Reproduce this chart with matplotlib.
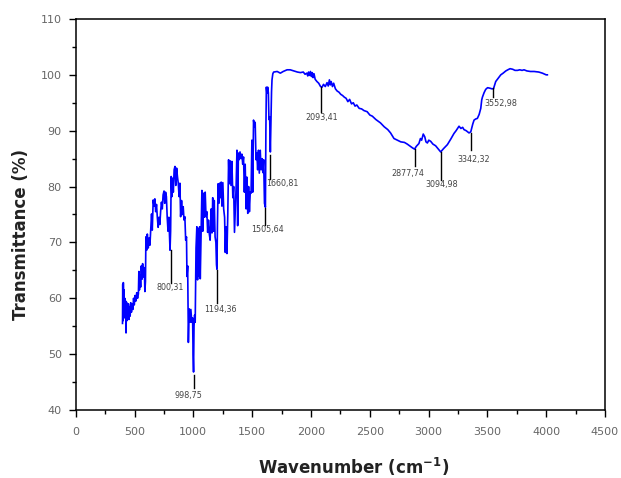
import matplotlib
matplotlib.use("Agg")
import matplotlib.pyplot as plt
from matplotlib.ticker import MultipleLocator

# ---- spectrum data (wavenumber, transmittance) ----
wavenumber = [
    398, 400, 403, 405, 408, 411, 414, 417, 421, 425, 428, 432, 436, 440, 444, 448,
    453, 458, 463, 468, 474, 480, 486, 492, 498, 505, 512, 519, 526, 533, 537, 542,
    547, 552, 558, 563, 569, 574, 580, 585, 588, 593, 597, 603, 609, 617, 624, 631,
    638, 645, 651, 659, 666, 673, 680, 687, 694, 701, 708, 715, 722, 729, 736, 743,
    751, 757, 764, 771, 778, 785, 792, 802, 807, 812, 818, 824, 830, 837, 844, 851,
    858, 865, 872, 879, 886, 892, 900, 907, 914, 921, 928, 935, 942, 946, 952, 958,
    965, 972, 979, 987, 994, 998, 1002, 1006, 1011, 1016, 1023, 1030, 1036, 1042,
    1048, 1054, 1059, 1066, 1073, 1080, 1087, 1094, 1101, 1108, 1115, 1122, 1129,
    1136, 1143, 1152, 1159, 1165, 1172, 1178, 1185, 1192, 1197, 1201, 1205, 1211,
    1217, 1223, 1229, 1237, 1243, 1251, 1258, 1266, 1272, 1278, 1286, 1293, 1300,
    1306, 1313, 1320, 1328, 1336, 1343, 1350, 1357, 1364, 1371, 1377, 1383, 1389,
    1397, 1405, 1413, 1420, 1427, 1434, 1441, 1449, 1455, 1463, 1470, 1477, 1484,
    1491, 1498, 1505, 1512, 1519, 1526, 1533, 1540, 1547, 1554, 1561, 1569, 1576,
    1584, 1591, 1598, 1605, 1613, 1617, 1621, 1626, 1632, 1638, 1643, 1649, 1655,
    1660, 1665, 1669, 1676, 1683, 1713, 1740, 1764, 1797, 1824, 1854, 1885, 1911,
    1935, 1950, 1965, 1973, 1980, 1987, 1996, 2004, 2011, 2018, 2026, 2036, 2051,
    2066, 2082, 2095, 2107, 2122, 2137, 2147, 2157, 2165, 2172, 2183, 2193, 2208,
    2223, 2238, 2254, 2269, 2284, 2299, 2314, 2329, 2345, 2360, 2375, 2390, 2410,
    2431, 2451, 2478, 2501, 2522, 2552, 2591, 2623, 2653, 2677, 2706, 2734, 2764,
    2795, 2819, 2845, 2865, 2881, 2896, 2918, 2931, 2941, 2955, 2968, 2978, 2990,
    3002, 3018, 3037, 3060, 3083, 3103, 3128, 3160, 3189, 3216, 3234, 3259, 3275,
    3290, 3301, 3320, 3344, 3359, 3376, 3387, 3401, 3415, 3430, 3444, 3452, 3458,
    3472, 3486, 3502, 3523, 3538, 3552, 3571, 3593, 3614, 3634, 3657, 3674, 3693,
    3715, 3735, 3756, 3775, 3795, 3812, 3836, 3866, 3898, 3937, 3968, 3990, 4000,
    4010,
]
transmittance = [
    55.5, 62.5, 56.0, 62.8, 57.5, 61.5, 56.5, 60.0, 57.0, 59.5, 53.8, 59.3, 56.0, 58.8, 56.5, 59.0,
    56.2, 58.5, 56.8, 59.2, 57.5, 59.0, 58.0, 60.0, 58.8, 60.5, 59.5, 61.0, 60.0, 60.8, 64.8, 61.5,
    64.2, 62.0, 65.8, 63.4, 66.2, 63.8, 65.5, 64.0, 61.2, 63.0, 71.0, 68.6, 71.5, 69.0, 70.8, 69.5,
    72.5, 75.1, 72.2, 77.6, 76.5, 77.8, 75.5, 76.8, 74.5, 72.7, 74.5, 73.2, 75.5, 77.2, 76.0, 78.5,
    79.2, 77.0, 79.0, 78.2, 74.5, 72.0, 74.5, 68.6, 72.0, 81.8, 78.2, 81.5, 79.0, 83.0, 83.6, 80.2,
    83.3, 81.8, 80.6, 78.2, 80.6, 74.6, 77.5, 75.0, 76.4, 74.0, 74.6, 70.4, 71.0, 63.9, 65.8, 52.1,
    58.1, 55.7, 58.0, 55.7, 56.5, 50.0, 46.8, 55.0, 57.0, 55.7, 69.0, 72.8, 63.3, 72.5,
    64.0, 72.8, 63.5, 71.0, 79.3, 72.0, 78.8, 74.5, 79.0, 74.6, 75.5, 71.8, 74.0,
    71.5, 70.4, 76.0, 71.7, 78.0, 72.0, 77.5, 71.0, 70.0, 66.0, 65.2, 73.0, 80.5,
    77.0, 80.6, 78.0, 80.8, 76.5, 80.7, 76.0, 74.5, 68.2, 72.8, 68.0, 75.0, 84.8,
    80.5, 84.6, 80.2, 84.5, 78.0, 80.0, 71.8, 76.0, 80.0, 86.5, 73.0, 86.0, 84.8,
    86.2, 85.0, 85.8, 84.0, 85.3, 79.0, 84.0, 76.0, 81.7, 75.2, 80.0, 75.5, 79.0,
    78.8, 88.3, 79.0, 91.9, 90.7, 91.5, 84.8, 86.0, 83.0, 86.5, 82.4, 86.5, 83.0,
    85.0, 82.5, 84.8, 77.0, 76.3, 90.0, 97.8, 96.7, 97.8, 96.8, 92.0, 92.5, 86.2,
    92.0, 97.0, 99.1, 100.2, 100.5, 100.6, 100.3, 100.6, 100.9, 100.9, 100.7, 100.5, 100.4,
    100.5, 100.1, 100.3, 99.8, 100.5, 99.9, 100.6, 99.7, 100.4, 99.5, 100.2, 99.2, 98.8,
    98.5, 97.9, 97.8, 98.3, 97.9, 98.6, 98.0, 99.1, 98.2, 98.8, 97.9, 98.5, 97.5,
    97.1, 96.9, 96.5, 96.3, 96.0, 95.8, 95.2, 95.6, 94.8, 95.0, 94.4, 94.6, 94.0,
    93.9, 93.6, 93.4, 92.8, 92.6, 92.0, 91.4, 90.7, 90.2, 89.6, 88.6, 88.3, 88.0,
    87.9, 87.6, 87.2, 86.9, 86.7, 87.2, 87.7, 88.6, 88.3, 89.4, 88.9, 88.0, 87.8,
    88.3, 88.1, 87.6, 87.3, 86.7, 86.2, 86.8, 87.5, 88.5, 89.5, 90.0, 90.8, 90.4,
    90.6, 90.2, 90.0, 89.6, 89.8, 91.2, 91.9, 92.1, 92.2, 92.9, 94.0, 95.5, 96.0,
    96.8, 97.4, 97.7, 97.6, 97.5, 97.5, 98.8, 99.4, 100.0, 100.3, 100.7, 100.9, 101.1,
    101.0, 100.8, 100.8, 100.9, 100.8, 100.9, 100.7, 100.6, 100.6, 100.5, 100.3, 100.1, 100.0,
    100.0,
]

# ---- peak annotations ----
peak_labels = ["998,75", "800,31", "1194,36", "1505,64", "1660,81",
               "2093,41", "2877,74", "3094,98", "3342,32", "3552,98"]
peak_x = [1002, 812, 1201, 1612, 1655, 2089, 2881, 3103, 3358, 3552]
peak_line_top = [46.3, 68.6, 65.0, 76.1, 85.7, 97.9, 86.7, 86.2, 89.5, 97.6]
peak_line_bottom = [43.9, 62.8, 59.1, 73.1, 81.3, 93.4, 83.6, 81.2, 86.5, 96.1]
label_x = [962, 807, 1229, 1634, 1757, 2095, 2826, 3110, 3387, 3614]
label_y = [42.6, 61.9, 58.0, 72.4, 80.6, 92.4, 82.3, 80.3, 84.9, 94.9]

x_ticks = [0, 500, 1000, 1500, 2000, 2500, 3000, 3500, 4000, 4500]
y_ticks = [40, 50, 60, 70, 80, 90, 100, 110]

fig = plt.figure(figsize=(6.21, 4.78), dpi=100)
ax = fig.add_axes([0.1219, 0.1423, 0.9742 - 0.1219, 0.9603 - 0.1423])

ax.plot(wavenumber, transmittance, color="#0000ff", lw=1.2)

for px, t, b, lx, ly, lab in zip(peak_x, peak_line_top, peak_line_bottom,
                                 label_x, label_y, peak_labels):
    ax.plot([px, px], [t, b], color="black", lw=1.0)
    ax.text(lx, ly, lab, fontsize=5.8, color="#444444", ha="center", va="center")

ax.set_xlim(0, 4500)
ax.set_ylim(40, 110)
ax.set_xticks(x_ticks)
ax.set_yticks(y_ticks)
ax.xaxis.set_minor_locator(MultipleLocator(250))
ax.yaxis.set_minor_locator(MultipleLocator(5))
ax.tick_params(which="major", direction="out", length=5, width=1.0,
               labelsize=8, labelcolor="#666666", top=False, right=False)
ax.tick_params(axis="x", which="major", pad=7)
ax.tick_params(axis="y", which="major", pad=5)
ax.tick_params(which="minor", direction="out", length=3, width=1.0,
               top=False, right=False)
for s in ax.spines.values():
    s.set_linewidth(1.1)
    s.set_color("black")

fig.text(21.5 / 621, 1 - 235 / 478, "Transmittance (%)", rotation=90,
         fontsize=12, fontweight="bold", color="#222222", ha="center", va="center")
fig.text(354 / 621, 1 - 467 / 478, r"Wavenumber (cm$^{\mathbf{-1}}$)",
         fontsize=12, fontweight="bold", color="#222222", ha="center", va="center")

fig.savefig("out.png", dpi=100)
